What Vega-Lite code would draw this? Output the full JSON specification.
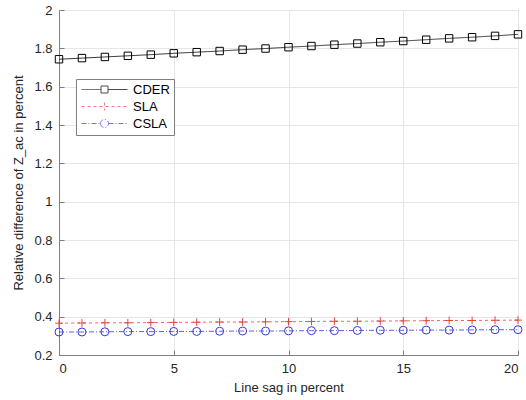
{
  "$schema": "https://vega.github.io/schema/vega-lite/v6.json",
  "width": 459,
  "height": 345,
  "autosize": "none",
  "padding": {"left": 59, "top": 10, "right": 8, "bottom": 45},
  "background": "white",
  "config": {
    "font": "Liberation Sans",
    "view": {"stroke": "#7f7f7f", "strokeWidth": 1},
    "axis": {
      "labelFont": "Liberation Sans",
      "titleFont": "Liberation Sans",
      "labelFontSize": 13,
      "titleFontSize": 13,
      "labelColor": "#262626",
      "titleColor": "#262626",
      "titleFontWeight": "normal",
      "domainColor": "#7f7f7f",
      "tickColor": "#7f7f7f",
      "gridColor": "#e6e6e6",
      "gridWidth": 1
    },
    "legend": {
      "orient": "none",
      "legendX": 17,
      "legendY": 69,
      "strokeColor": "#7f7f7f",
      "fillColor": "white",
      "padding": 4,
      "symbolSize": 100,
      "symbolStrokeWidth": 1,
      "labelFont": "Liberation Sans",
      "labelFontSize": 13,
      "labelColor": "#000000",
      "labelOffset": 40,
      "rowPadding": 3
    }
  },
  "data": {
    "values": [
      {"sag": 0, "CDER": 1.743, "SLA": 0.366, "CSLA": 0.320},
      {"sag": 1, "CDER": 1.749, "SLA": 0.367, "CSLA": 0.320},
      {"sag": 2, "CDER": 1.755, "SLA": 0.368, "CSLA": 0.321},
      {"sag": 3, "CDER": 1.761, "SLA": 0.368, "CSLA": 0.322},
      {"sag": 4, "CDER": 1.767, "SLA": 0.369, "CSLA": 0.322},
      {"sag": 5, "CDER": 1.774, "SLA": 0.370, "CSLA": 0.323},
      {"sag": 6, "CDER": 1.780, "SLA": 0.371, "CSLA": 0.323},
      {"sag": 7, "CDER": 1.786, "SLA": 0.372, "CSLA": 0.324},
      {"sag": 8, "CDER": 1.793, "SLA": 0.372, "CSLA": 0.325},
      {"sag": 9, "CDER": 1.799, "SLA": 0.373, "CSLA": 0.325},
      {"sag": 10, "CDER": 1.806, "SLA": 0.374, "CSLA": 0.326},
      {"sag": 11, "CDER": 1.812, "SLA": 0.375, "CSLA": 0.327},
      {"sag": 12, "CDER": 1.819, "SLA": 0.376, "CSLA": 0.327},
      {"sag": 13, "CDER": 1.825, "SLA": 0.376, "CSLA": 0.328},
      {"sag": 14, "CDER": 1.832, "SLA": 0.377, "CSLA": 0.329},
      {"sag": 15, "CDER": 1.838, "SLA": 0.378, "CSLA": 0.329},
      {"sag": 16, "CDER": 1.845, "SLA": 0.379, "CSLA": 0.330},
      {"sag": 17, "CDER": 1.852, "SLA": 0.380, "CSLA": 0.330},
      {"sag": 18, "CDER": 1.858, "SLA": 0.380, "CSLA": 0.331},
      {"sag": 19, "CDER": 1.865, "SLA": 0.381, "CSLA": 0.332},
      {"sag": 20, "CDER": 1.873, "SLA": 0.382, "CSLA": 0.332}
    ]
  },
  "transform": [{"fold": ["CDER", "SLA", "CSLA"], "as": ["series", "value"]}],
  "encoding": {
    "x": {
      "field": "sag", "type": "quantitative",
      "scale": {"domain": [0, 20], "nice": false},
      "axis": {"title": "Line sag in percent", "values": [0, 5, 10, 15, 20], "tickSize": -5, "labelPadding": 12, "titlePadding": 6}
    },
    "y": {
      "field": "value", "type": "quantitative",
      "scale": {"domain": [0.2, 2], "nice": false, "zero": false},
      "axis": {
        "title": "Relative difference of Z_ac in percent",
        "values": [0.2, 0.4, 0.6, 0.8, 1, 1.2, 1.4, 1.6, 1.8, 2],
        "labelExpr": "format(datum.value, '.1~f')",
        "tickSize": -5,
        "labelPadding": 12,
        "titlePadding": 8
      }
    }
  },
  "resolve": {"scale": {"shape": "independent", "color": "independent", "strokeDash": "independent"}},
  "layer": [
    {
      "mark": {"type": "line", "strokeWidth": 0.8},
      "encoding": {
        "color": {
          "field": "series", "type": "nominal",
          "scale": {"domain": ["CDER", "SLA", "CSLA"], "range": ["#000000", "#e8443f", "#3737d6"]},
          "legend": null
        },
        "strokeDash": {
          "field": "series", "type": "nominal",
          "scale": {"domain": ["CDER", "SLA", "CSLA"], "range": [[1, 0], [3, 3], [5, 2, 1, 2]]},
          "legend": null
        }
      }
    },
    {
      "mark": {"type": "point", "filled": false, "strokeWidth": 1, "opacity": 1},
      "encoding": {
        "color": {
          "field": "series", "type": "nominal",
          "scale": {"domain": ["CDER", "SLA", "CSLA"], "range": ["#000000", "#e8443f", "#3737d6"]},
          "legend": null
        },
        "shape": {
          "field": "series", "type": "nominal",
          "scale": {"domain": ["CDER", "SLA", "CSLA"], "range": ["square", "M-1,0H1M0,-1V1", "circle"]},
          "legend": null
        },
        "size": {
          "field": "series", "type": "nominal",
          "scale": {"domain": ["CDER", "SLA", "CSLA"], "range": [55, 64, 85]},
          "legend": null
        }
      }
    },
    {
      "transform": [{"filter": "datum.sag < 0"}],
      "mark": {"type": "point", "filled": false, "strokeWidth": 1},
      "encoding": {
        "color": {
          "field": "series", "type": "nominal",
          "scale": {"domain": ["CDER", "SLA", "CSLA"], "range": ["#000000", "#e8443f", "#3737d6"]},
          "legend": {"title": null}
        },
        "shape": {
          "field": "series", "type": "nominal",
          "scale": {"domain": ["CDER", "SLA", "CSLA"], "range": [
            "M-1,0H2.9M4.3,0H8.2M2.9,-0.7H4.3V0.7H2.9Z",
            "M-1,0H8.2M3.6,-0.8V0.8",
            "M-1,0H2.8M4.4,0H8.2M2.8,0A0.8,0.8,0,1,0,4.4,0A0.8,0.8,0,1,0,2.8,0"
          ]},
          "legend": {"title": null}
        },
        "strokeDash": {
          "field": "series", "type": "nominal",
          "scale": {"domain": ["CDER", "SLA", "CSLA"], "range": [[1, 0], [3, 3], [5, 2, 1, 2]]},
          "legend": {"title": null}
        }
      }
    }
  ]
}
